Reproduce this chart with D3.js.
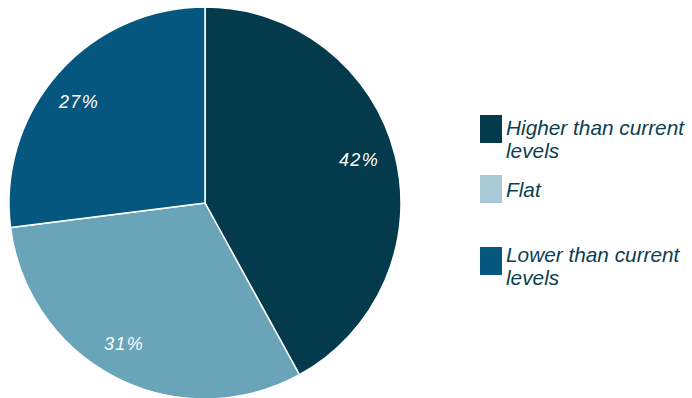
<!DOCTYPE html>
<html><head><meta charset="utf-8">
<script src="https://cdn.jsdelivr.net/npm/d3@7"></script>
<style>body{margin:0;background:#fff}svg{display:block}</style>
</head><body>
<svg id="c" width="692" height="398"></svg>
<script>
const categories = ["Higher than current levels", "Flat", "Lower than current levels"];
const values = [42, 31, 27];
const labels = ["42%", "31%", "27%"];
const sliceColors = ["#033b4d", "#6aa4b9", "#06577f"];
const legendColors = ["#033b4d", "#a8c9d6", "#06577f"];
const legendLines = [["Higher than current", "levels"], ["Flat"], ["Lower than current", "levels"]];

const svg = d3.select("#c");
const cx = 205, cy = 203, r = 196;
const pie = d3.pie().sort(null).value(d => d)(values);
const arc = d3.arc().innerRadius(0).outerRadius(r);
const g = svg.append("g").attr("transform", `translate(${cx},${cy})`);
g.selectAll("path").data(pie).join("path")
  .attr("d", arc).attr("fill", (d, i) => sliceColors[i])
  .attr("stroke", "#fff").attr("stroke-width", 1.5);
const lblPos = [[154, -44], [-81, 140], [-126, -102]];
g.selectAll("text").data(pie).join("text")
  .attr("x", (d, i) => lblPos[i][0]).attr("y", (d, i) => lblPos[i][1] + 6.5)
  .attr("text-anchor", "middle")
  .attr("font-family", "Liberation Sans, Arial, sans-serif")
  .attr("font-style", "italic").attr("font-size", 18).attr("letter-spacing", 1.3)
  .attr("fill", "#fff").text((d, i) => labels[i]);

const legY = [115, 175, 247];
const legBase = [134.5, 197, 262];
const leg = svg.append("g");
categories.forEach((c, i) => {
  leg.append("rect").attr("x", 480).attr("y", legY[i]).attr("width", 22).attr("height", 28)
    .attr("fill", legendColors[i]);
  const t = leg.append("text").attr("x", 506).attr("y", legBase[i])
    .attr("font-family", "Liberation Sans, Arial, sans-serif")
    .attr("font-style", "italic").attr("font-size", 20.8).attr("fill", "#0c3f51");
  legendLines[i].forEach((ln, j) => {
    t.append("tspan").attr("x", 506).attr("dy", j === 0 ? 0 : 23).text(ln);
  });
});
</script>
</body></html>
